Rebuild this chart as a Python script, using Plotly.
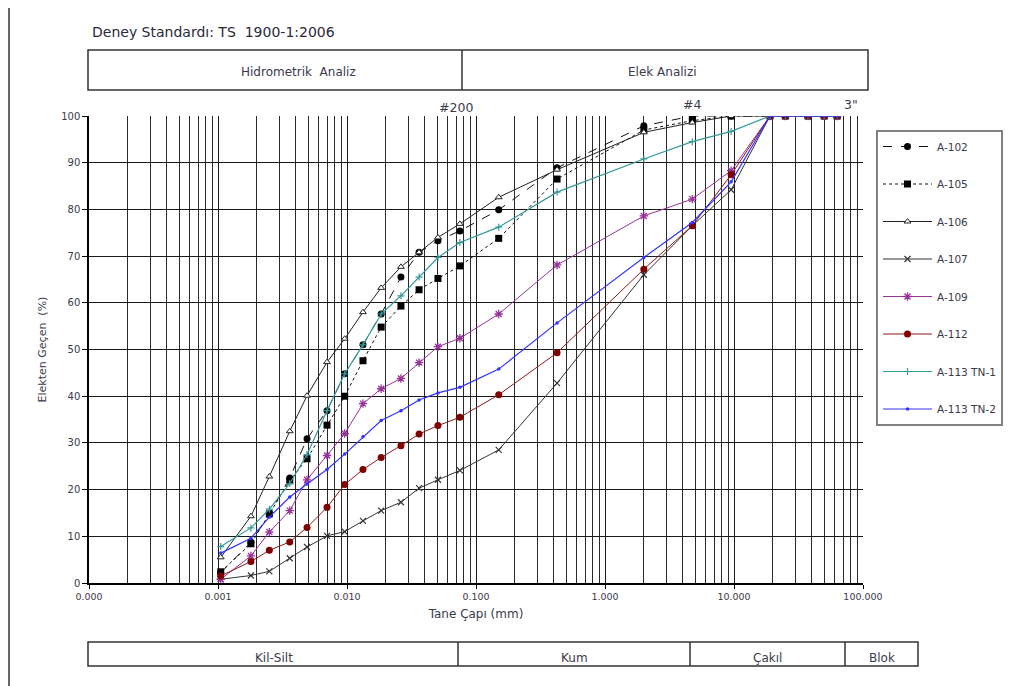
import plotly.graph_objects as go

# ---------------- data ----------------
hydro_d = [0.00105, 0.0018, 0.0025, 0.0036, 0.0049, 0.0070, 0.0096, 0.0133, 0.0184, 0.0262, 0.0362, 0.0507]
sieve_d = [0.075, 0.15, 0.425, 2.0, 4.75, 9.5, 19.0, 25.0, 37.5, 50.0, 63.0]
diam = hydro_d + sieve_d

a102 = [2.2, 8.7, 14.8, 22.5, 30.9, 36.9, 44.8, 51.0, 57.6, 65.5, 70.8, 73.3,
        75.4, 79.9, 88.9, 97.9, 100, 100, 100, 100, 100, 100, 100]
a105 = [2.4, 8.4, 14.8, 21.9, 26.6, 33.8, 40.0, 47.6, 54.8, 59.3, 62.8, 65.2,
        67.9, 73.8, 86.5, 97.0, 99.0, 100, 100, 100, 100, 100, 100]
a106 = [5.5, 14.3, 22.8, 32.5, 40.1, 47.3, 52.3, 58.0, 63.2, 67.7, 70.8, 74.0,
        76.9, 82.6, 88.5, 96.5, 98.6, 100, 100, 100, 100, 100, 100]
a107 = [0.8, 1.6, 2.5, 5.3, 7.7, 10.1, 11.0, 13.3, 15.5, 17.3, 20.3, 22.1,
        24.1, 28.5, 42.8, 66.0, 76.5, 84.2, 100, 100, 100, 100, 100]
a109 = [0.8, 5.8, 10.9, 15.5, 22.1, 27.3, 32.0, 38.4, 41.6, 43.8, 47.2, 50.6,
        52.4, 57.6, 68.1, 78.6, 82.2, 88.3, 100, 100, 100, 100, 100]
a112 = [1.5, 4.6, 7.0, 8.8, 11.9, 16.2, 21.1, 24.3, 26.9, 29.4, 31.9, 33.7,
        35.5, 40.3, 49.3, 67.2, 76.5, 87.4, 100, 100, 100, 100, 100]
a113_tn1 = [7.8, 11.8, 15.8, 21.3, 27.5, 36.9, 44.8, 51.0, 57.6, 61.5, 65.5, 69.7,
            72.9, 76.2, 83.7, 90.8, 94.5, 96.7, 100, 100, 100, 100, 100]
a113_tn2 = [6.4, 9.6, 14.1, 18.4, 21.2, 24.3, 27.6, 31.3, 34.8, 36.9, 39.2, 40.7,
            41.9, 45.8, 55.7, 69.7, 77.2, 85.9, 100, 100, 100, 100, 100]

names = ["A-102", "A-105", "A-106", "A-107", "A-109", "A-112", "A-113 TN-1", "A-113 TN-2"]
series = [a102, a105, a106, a107, a109, a112, a113_tn1, a113_tn2]

x_tickvals = [0.0001, 0.001, 0.01, 0.1, 1, 10, 100]
x_ticktext = ["0.000", "0.001", "0.010", "0.100", "1.000", "10.000", "100.000"]
y_tickvals = [0, 10, 20, 30, 40, 50, 60, 70, 80, 90, 100]

# ---------------- styles ----------------
styles = [
    dict(line=dict(color="#111111", width=1, dash="dash"),
         marker=dict(symbol="circle", size=7, color="#000000")),
    dict(line=dict(color="#111111", width=1, dash="dot"),
         marker=dict(symbol="square", size=7, color="#000000")),
    dict(line=dict(color="#222222", width=1),
         marker=dict(symbol="triangle-up", size=6, color="white",
                     line=dict(color="#222222", width=1))),
    dict(line=dict(color="#333333", width=1),
         marker=dict(symbol="x-thin-open", size=6, color="#333333",
                     line=dict(color="#333333", width=1.2))),
    dict(line=dict(color="#993399", width=1),
         marker=dict(symbol="asterisk-open", size=7, color="#993399",
                     line=dict(color="#993399", width=1.3))),
    dict(line=dict(color="#8B1A1A", width=1),
         marker=dict(symbol="circle", size=7, color="#800000")),
    dict(line=dict(color="#339999", width=1.2),
         marker=dict(symbol="cross-thin-open", size=5, color="#339999",
                     line=dict(color="#339999", width=1.2))),
    dict(line=dict(color="#3333FF", width=1.2),
         marker=dict(symbol="circle", size=3.5, color="#3333FF")),
]

fig = go.Figure()
for i, (nm, ys) in enumerate(zip(names, series)):
    fig.add_trace(go.Scatter(x=diam, y=ys, mode="lines+markers", name=nm,
                             legendgroup=nm, **styles[i]))

FONT = "DejaVu Sans, Verdana, sans-serif"
TXT = "#3a3a4a"

# helpers in paper coords from reference pixel positions
L, R, T, B = 89, 863, 116, 583
def px(x):
    return (x - L) / (R - L)
def py(y):
    return (B - y) / (B - T)

# The page is offset by the 8px body margin, so the figure is 8px smaller
fig.update_layout(
    width=1006, height=678,
    margin=dict(l=81, r=151, t=108, b=103, autoexpand=False),
    paper_bgcolor="white", plot_bgcolor="white",
    font=dict(family=FONT, size=10, color=TXT),
    showlegend=True,
    legend=dict(x=px(876), y=py(130), xanchor="left", yanchor="top",
                bordercolor="#808080", borderwidth=2, bgcolor="white",
                font=dict(size=10.5, color=TXT), itemwidth=49,
                tracegroupgap=18.5, traceorder="grouped"),
    xaxis=dict(type="log", range=[-4, 2], tickvals=x_tickvals, ticktext=x_ticktext,
               showgrid=True, gridcolor="#1a1a1a", gridwidth=1.3,
               minor=dict(showgrid=True, gridcolor="#2a2a2a", gridwidth=1.2, dtick="D1"),
               showline=True, linecolor="black", linewidth=1.5,
               ticks="outside", ticklen=4, tickcolor="black",
               tickfont=dict(size=9.5, color=TXT),
               title=dict(text="Tane Çapı (mm)", font=dict(size=12, color=TXT), standoff=8),
               zeroline=False),
    yaxis=dict(range=[0, 100], tickvals=y_tickvals,
               showgrid=True, gridcolor="#1a1a1a", gridwidth=1.3,
               showline=True, linecolor="black", linewidth=1.5,
               ticks="outside", ticklen=5, tickcolor="black",
               tickfont=dict(size=10, color=TXT),
               title=dict(text="Elekten Geçen  (%)", font=dict(size=11, color=TXT), standoff=12),
               zeroline=False),
)

shapes = []
# header box
shapes.append(dict(type="rect", xref="paper", yref="paper", x0=px(88), x1=px(868),
                   y0=py(90), y1=py(50), line=dict(color="#333333", width=1.5)))
shapes.append(dict(type="line", xref="paper", yref="paper", x0=px(462), x1=px(462),
                   y0=py(90), y1=py(50), line=dict(color="#333333", width=1.5)))
# bottom box
shapes.append(dict(type="rect", xref="paper", yref="paper", x0=px(88), x1=px(918),
                   y0=py(666), y1=py(642), line=dict(color="#333333", width=1.5)))
for xd in [458, 690, 845]:
    shapes.append(dict(type="line", xref="paper", yref="paper", x0=px(xd), x1=px(xd),
                       y0=py(666), y1=py(642), line=dict(color="#333333", width=1.5)))
# outer left frame line
shapes.append(dict(type="line", xref="paper", yref="paper", x0=px(9), x1=px(9),
                   y0=py(686), y1=py(8), line=dict(color="#333333", width=1.5)))
fig.update_layout(shapes=shapes)

ann = [
    dict(text="Deney Standardı: TS  1900-1:2006", x=px(90), y=py(32), xanchor="left",
         font=dict(size=14, color="#2a2a3a")),
    dict(text="Hidrometrik  Analiz", x=px(298), y=py(72), font=dict(size=12, color=TXT)),
    dict(text="Elek Analizi", x=px(662), y=py(72), font=dict(size=12, color=TXT)),
    dict(text="#200", x=px(456), y=py(107), font=dict(size=12.5, color=TXT)),
    dict(text="#4", x=px(692), y=py(104), font=dict(size=12.5, color=TXT)),
    dict(text='3"', x=px(851), y=py(104), font=dict(size=12.5, color=TXT)),
    dict(text="Kil-Silt", x=px(274), y=py(658), font=dict(size=12, color=TXT)),
    dict(text="Kum", x=px(574), y=py(658), font=dict(size=12, color=TXT)),
    dict(text="Çakıl", x=px(767), y=py(658), font=dict(size=12, color=TXT)),
    dict(text="Blok", x=px(882), y=py(658), font=dict(size=12, color=TXT)),
]
for a in ann:
    a.update(xref="paper", yref="paper", showarrow=False)
    a.setdefault("xanchor", "center")
    a.setdefault("yanchor", "middle")
fig.update_layout(annotations=ann)

fig.write_html("out.html")
